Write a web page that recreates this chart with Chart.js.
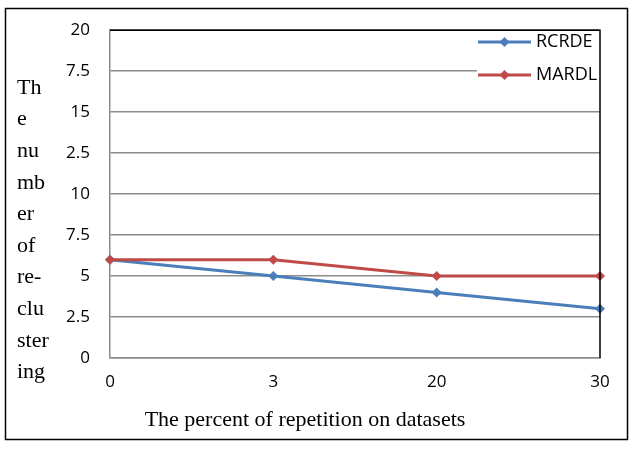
<!DOCTYPE html>
<html>
<head>
<meta charset="utf-8">
<script src="https://cdn.jsdelivr.net/npm/chart.js@4"></script>
<style>
  html, body { margin: 0; padding: 0; background: #fff; }
</style>
</head>
<body>
<canvas id="chart" width="633" height="453"></canvas>
<script>
// chart values
const categories = ['0', '3', '20', '30'];
const rcrdeValues = [6, 5, 4, 3];
const mardlValues = [6, 6, 5, 5];
// tick labels as printed on the original (index = value / 2.5)
const yTickLabels = ['0', '2.5', '5', '7.5', '10', '2.5', '15', '7.5', '20'];
const yTitleLines = ['Th', 'e', 'nu', 'mb', 'er', 'of', 're-', 'clu', 'ster', 'ing'];
const xTitle = 'The percent of repetition on datasets';

const tickFont = { family: 'Open Sans', size: 17 };
const gridGrey = '#8c8c8c';

// outer frame, axis titles, legend box and black plot border
const decorations = {
    id: 'decorations',
    afterDraw(chart) {
        const ctx = chart.ctx;
        const area = chart.chartArea;
        ctx.save();

        // legend inside the plot, top right
        ctx.fillStyle = '#fff';
        ctx.fillRect(477, area.top + 1, area.right - 477, 62);
        chart.data.datasets.forEach((ds, i) => {
            const y = 42 + i * 33;
            ctx.strokeStyle = ds.borderColor;
            ctx.lineWidth = 3;
            ctx.beginPath();
            ctx.moveTo(478, y);
            ctx.lineTo(531, y);
            ctx.stroke();
            ctx.fillStyle = ds.borderColor;
            ctx.beginPath();
            ctx.moveTo(504.5, y - 5);
            ctx.lineTo(509.5, y);
            ctx.lineTo(504.5, y + 5);
            ctx.lineTo(499.5, y);
            ctx.closePath();
            ctx.fill();
            ctx.fillStyle = '#000';
            ctx.font = '18px "Open Sans"';
            ctx.textBaseline = 'middle';
            ctx.textAlign = 'left';
            ctx.fillText(ds.label, 536, y);
        });

        // top and right plot borders are black
        ctx.strokeStyle = '#000';
        ctx.lineWidth = 1.5;
        ctx.beginPath();
        ctx.moveTo(area.left, area.top);
        ctx.lineTo(area.right, area.top);
        ctx.lineTo(area.right, area.bottom);
        ctx.stroke();

        // y title, wrapped as in the original
        ctx.fillStyle = '#000';
        ctx.font = '22px "Liberation Serif"';
        ctx.textAlign = 'left';
        ctx.textBaseline = 'middle';
        yTitleLines.forEach((t, i) => ctx.fillText(t, 17, 88 + i * 31.6));

        // x title
        ctx.textAlign = 'center';
        ctx.fillText(xTitle, 305, 420);

        // outer frame
        ctx.strokeStyle = '#000';
        ctx.lineWidth = 1.5;
        ctx.strokeRect(5.5, 8.5, 622, 431);
        ctx.restore();
    }
};

new Chart(document.getElementById('chart'), {
    type: 'line',
    data: {
        labels: categories,
        datasets: [
            {
                label: 'RCRDE',
                data: rcrdeValues,
                borderColor: '#4a7ebb',
                backgroundColor: '#4a7ebb',
                borderWidth: 3,
                pointStyle: 'rectRot',
                pointRadius: 5,
                pointBorderWidth: 0,
                order: 1
            },
            {
                label: 'MARDL',
                data: mardlValues,
                borderColor: '#be4b48',
                backgroundColor: '#be4b48',
                borderWidth: 3,
                pointStyle: 'rectRot',
                pointRadius: 5,
                pointBorderWidth: 0,
                order: 0
            }
        ]
    },
    options: {
        responsive: false,
        animation: false,
        layout: { padding: { top: 29, right: 33, left: 0, bottom: 0 } },
        plugins: {
            legend: { display: false },
            tooltip: { enabled: false }
        },
        scales: {
            x: {
                offset: false,
                grid: { display: false, drawTicks: false },
                border: { color: gridGrey, width: 1.5 },
                ticks: { color: '#000', font: tickFont, padding: 14, maxRotation: 0 },
                afterFit(scale) { scale.height = 95; }
            },
            y: {
                min: 0,
                max: 20,
                grid: { color: gridGrey, lineWidth: 1.5, drawTicks: false },
                border: { color: gridGrey, width: 1.5 },
                ticks: {
                    stepSize: 2.5,
                    color: '#000',
                    font: tickFont,
                    padding: 20,
                    callback: (v) => yTickLabels[Math.round(v / 2.5)]
                },
                afterFit(scale) { scale.width = 110; }
            }
        }
    },
    plugins: [decorations]
});
</script>
</body>
</html>
